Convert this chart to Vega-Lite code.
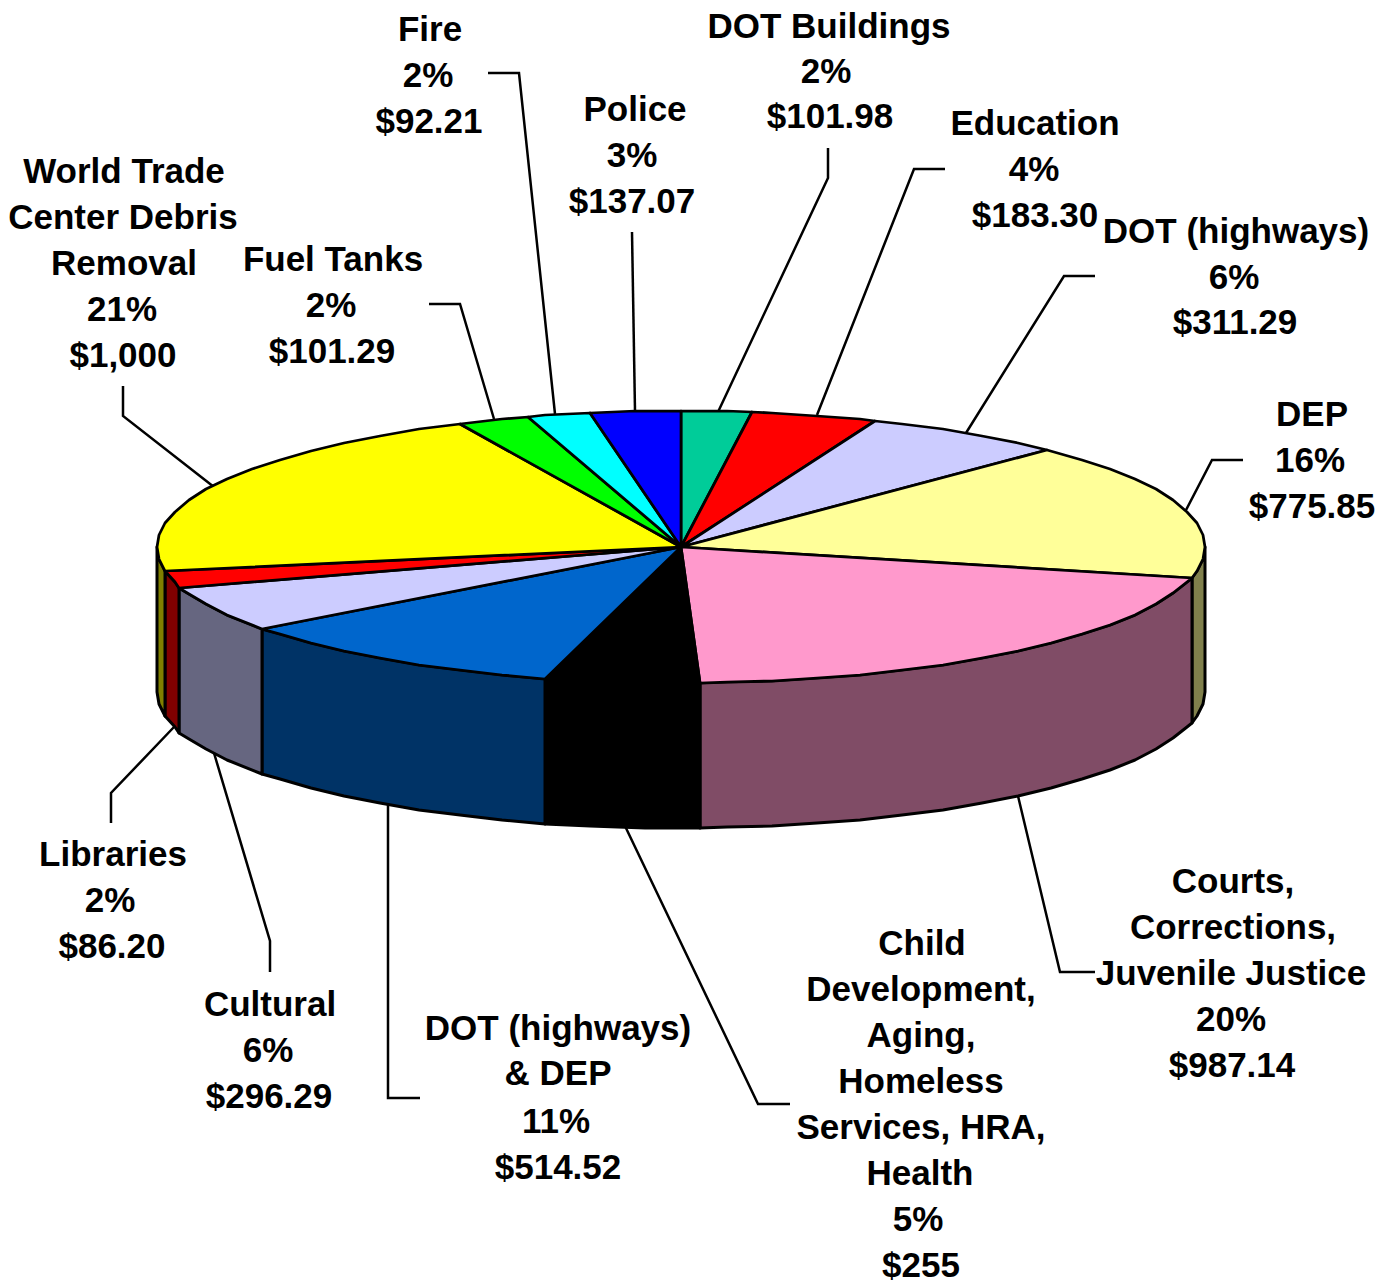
{"$schema":"https://vega.github.io/schema/vega-lite/v6.json","width":1394,"height":1281,"padding":0,"autosize":"none","background":"white","config":{"view":{"stroke":null}},
"datasets":{
"walls":[
{"slice":"DEP","i":0,"x":1205,"y":547},{"slice":"DEP","i":1,"x":1203,"y":559},{"slice":"DEP","i":2,"x":1197,"y":571},{"slice":"DEP","i":3,"x":1192,"y":578},{"slice":"DEP","i":4,"x":1192,"y":723},{"slice":"DEP","i":5,"x":1197,"y":716},{"slice":"DEP","i":6,"x":1203,"y":704},{"slice":"DEP","i":7,"x":1205,"y":692},
{"slice":"Courts","i":0,"x":1192,"y":578},{"slice":"Courts","i":1,"x":1187,"y":582},{"slice":"Courts","i":2,"x":1173,"y":593},{"slice":"Courts","i":3,"x":1156,"y":604},{"slice":"Courts","i":4,"x":1135,"y":615},{"slice":"Courts","i":5,"x":1110,"y":625},{"slice":"Courts","i":6,"x":1082,"y":634},{"slice":"Courts","i":7,"x":1051,"y":643},{"slice":"Courts","i":8,"x":1018,"y":651},{"slice":"Courts","i":9,"x":982,"y":658},{"slice":"Courts","i":10,"x":943,"y":665},{"slice":"Courts","i":11,"x":902,"y":670},{"slice":"Courts","i":12,"x":860,"y":675},{"slice":"Courts","i":13,"x":817,"y":678},{"slice":"Courts","i":14,"x":772,"y":681},{"slice":"Courts","i":15,"x":727,"y":682},{"slice":"Courts","i":16,"x":700,"y":683},
{"slice":"Courts","i":17,"x":700,"y":828},{"slice":"Courts","i":18,"x":727,"y":827},{"slice":"Courts","i":19,"x":772,"y":826},{"slice":"Courts","i":20,"x":817,"y":823},{"slice":"Courts","i":21,"x":860,"y":820},{"slice":"Courts","i":22,"x":902,"y":815},{"slice":"Courts","i":23,"x":943,"y":810},{"slice":"Courts","i":24,"x":982,"y":803},{"slice":"Courts","i":25,"x":1018,"y":796},{"slice":"Courts","i":26,"x":1051,"y":788},{"slice":"Courts","i":27,"x":1082,"y":779},{"slice":"Courts","i":28,"x":1110,"y":770},{"slice":"Courts","i":29,"x":1135,"y":760},{"slice":"Courts","i":30,"x":1156,"y":749},{"slice":"Courts","i":31,"x":1173,"y":738},{"slice":"Courts","i":32,"x":1187,"y":727},{"slice":"Courts","i":33,"x":1192,"y":723},
{"slice":"Child","i":0,"x":700,"y":683},{"slice":"Child","i":1,"x":645,"y":683},{"slice":"Child","i":2,"x":590,"y":681},{"slice":"Child","i":3,"x":545,"y":679},{"slice":"Child","i":4,"x":545,"y":824},{"slice":"Child","i":5,"x":590,"y":826},{"slice":"Child","i":6,"x":645,"y":828},{"slice":"Child","i":7,"x":700,"y":828},
{"slice":"DOTDEP","i":0,"x":545,"y":679},{"slice":"DOTDEP","i":1,"x":502,"y":675},{"slice":"DOTDEP","i":2,"x":460,"y":670},{"slice":"DOTDEP","i":3,"x":419,"y":665},{"slice":"DOTDEP","i":4,"x":380,"y":658},{"slice":"DOTDEP","i":5,"x":344,"y":651},{"slice":"DOTDEP","i":6,"x":311,"y":643},{"slice":"DOTDEP","i":7,"x":280,"y":634},{"slice":"DOTDEP","i":8,"x":262,"y":629},{"slice":"DOTDEP","i":9,"x":262,"y":774},{"slice":"DOTDEP","i":10,"x":280,"y":779},{"slice":"DOTDEP","i":11,"x":311,"y":788},{"slice":"DOTDEP","i":12,"x":344,"y":796},{"slice":"DOTDEP","i":13,"x":380,"y":803},{"slice":"DOTDEP","i":14,"x":419,"y":810},{"slice":"DOTDEP","i":15,"x":460,"y":815},{"slice":"DOTDEP","i":16,"x":502,"y":820},{"slice":"DOTDEP","i":17,"x":545,"y":824},
{"slice":"Cultural","i":0,"x":262,"y":629},{"slice":"Cultural","i":1,"x":227,"y":615},{"slice":"Cultural","i":2,"x":206,"y":604},{"slice":"Cultural","i":3,"x":189,"y":594},{"slice":"Cultural","i":4,"x":179,"y":588},{"slice":"Cultural","i":5,"x":179,"y":733},{"slice":"Cultural","i":6,"x":189,"y":739},{"slice":"Cultural","i":7,"x":206,"y":749},{"slice":"Cultural","i":8,"x":227,"y":760},{"slice":"Cultural","i":9,"x":262,"y":774},
{"slice":"Libraries","i":0,"x":179,"y":588},{"slice":"Libraries","i":1,"x":175,"y":582},{"slice":"Libraries","i":2,"x":165,"y":571},{"slice":"Libraries","i":3,"x":165,"y":716},{"slice":"Libraries","i":4,"x":175,"y":727},{"slice":"Libraries","i":5,"x":179,"y":733},
{"slice":"WTC","i":0,"x":165,"y":571},{"slice":"WTC","i":1,"x":159,"y":559},{"slice":"WTC","i":2,"x":157,"y":547},{"slice":"WTC","i":3,"x":157,"y":692},{"slice":"WTC","i":4,"x":159,"y":704},{"slice":"WTC","i":5,"x":165,"y":716}
],
"tops":[
{"slice":"DOTB","i":0,"x":681,"y":547},{"slice":"DOTB","i":1,"x":681,"y":411},{"slice":"DOTB","i":2,"x":727,"y":411},{"slice":"DOTB","i":3,"x":752,"y":412},
{"slice":"Education","i":0,"x":681,"y":547},{"slice":"Education","i":1,"x":752,"y":412},{"slice":"Education","i":2,"x":772,"y":413},{"slice":"Education","i":3,"x":817,"y":416},{"slice":"Education","i":4,"x":860,"y":419},{"slice":"Education","i":5,"x":875,"y":421},
{"slice":"DOTH","i":0,"x":681,"y":547},{"slice":"DOTH","i":1,"x":875,"y":421},{"slice":"DOTH","i":2,"x":902,"y":424},{"slice":"DOTH","i":3,"x":943,"y":429},{"slice":"DOTH","i":4,"x":982,"y":436},{"slice":"DOTH","i":5,"x":1018,"y":443},{"slice":"DOTH","i":6,"x":1047,"y":450},
{"slice":"DEP","i":0,"x":681,"y":547},{"slice":"DEP","i":1,"x":1047,"y":450},{"slice":"DEP","i":2,"x":1082,"y":460},{"slice":"DEP","i":3,"x":1110,"y":469},{"slice":"DEP","i":4,"x":1135,"y":479},{"slice":"DEP","i":5,"x":1156,"y":489},{"slice":"DEP","i":6,"x":1173,"y":500},{"slice":"DEP","i":7,"x":1187,"y":512},{"slice":"DEP","i":8,"x":1197,"y":523},{"slice":"DEP","i":9,"x":1203,"y":535},{"slice":"DEP","i":10,"x":1205,"y":547},{"slice":"DEP","i":11,"x":1203,"y":559},{"slice":"DEP","i":12,"x":1197,"y":571},{"slice":"DEP","i":13,"x":1192,"y":578},
{"slice":"Courts","i":0,"x":681,"y":547},{"slice":"Courts","i":1,"x":1192,"y":578},{"slice":"Courts","i":2,"x":1187,"y":582},{"slice":"Courts","i":3,"x":1173,"y":593},{"slice":"Courts","i":4,"x":1156,"y":604},{"slice":"Courts","i":5,"x":1135,"y":615},{"slice":"Courts","i":6,"x":1110,"y":625},{"slice":"Courts","i":7,"x":1082,"y":634},{"slice":"Courts","i":8,"x":1051,"y":643},{"slice":"Courts","i":9,"x":1018,"y":651},{"slice":"Courts","i":10,"x":982,"y":658},{"slice":"Courts","i":11,"x":943,"y":665},{"slice":"Courts","i":12,"x":902,"y":670},{"slice":"Courts","i":13,"x":860,"y":675},{"slice":"Courts","i":14,"x":817,"y":678},{"slice":"Courts","i":15,"x":772,"y":681},{"slice":"Courts","i":16,"x":727,"y":682},{"slice":"Courts","i":17,"x":700,"y":683},
{"slice":"Child","i":0,"x":681,"y":547},{"slice":"Child","i":1,"x":700,"y":683},{"slice":"Child","i":2,"x":645,"y":683},{"slice":"Child","i":3,"x":590,"y":681},{"slice":"Child","i":4,"x":545,"y":679},
{"slice":"DOTDEP","i":0,"x":681,"y":547},{"slice":"DOTDEP","i":1,"x":545,"y":679},{"slice":"DOTDEP","i":2,"x":502,"y":675},{"slice":"DOTDEP","i":3,"x":460,"y":670},{"slice":"DOTDEP","i":4,"x":419,"y":665},{"slice":"DOTDEP","i":5,"x":380,"y":658},{"slice":"DOTDEP","i":6,"x":344,"y":651},{"slice":"DOTDEP","i":7,"x":311,"y":643},{"slice":"DOTDEP","i":8,"x":280,"y":634},{"slice":"DOTDEP","i":9,"x":262,"y":629},
{"slice":"Cultural","i":0,"x":681,"y":547},{"slice":"Cultural","i":1,"x":262,"y":629},{"slice":"Cultural","i":2,"x":227,"y":615},{"slice":"Cultural","i":3,"x":206,"y":604},{"slice":"Cultural","i":4,"x":189,"y":594},{"slice":"Cultural","i":5,"x":179,"y":588},
{"slice":"Libraries","i":0,"x":681,"y":547},{"slice":"Libraries","i":1,"x":179,"y":588},{"slice":"Libraries","i":2,"x":175,"y":582},{"slice":"Libraries","i":3,"x":165,"y":571},
{"slice":"WTC","i":0,"x":681,"y":547},{"slice":"WTC","i":1,"x":165,"y":571},{"slice":"WTC","i":2,"x":159,"y":559},{"slice":"WTC","i":3,"x":157,"y":547},{"slice":"WTC","i":4,"x":159,"y":535},{"slice":"WTC","i":5,"x":165,"y":523},{"slice":"WTC","i":6,"x":175,"y":512},{"slice":"WTC","i":7,"x":189,"y":500},{"slice":"WTC","i":8,"x":206,"y":489},{"slice":"WTC","i":9,"x":227,"y":479},{"slice":"WTC","i":10,"x":252,"y":469},{"slice":"WTC","i":11,"x":280,"y":460},{"slice":"WTC","i":12,"x":311,"y":451},{"slice":"WTC","i":13,"x":344,"y":443},{"slice":"WTC","i":14,"x":380,"y":436},{"slice":"WTC","i":15,"x":419,"y":429},{"slice":"WTC","i":16,"x":460,"y":424},
{"slice":"Fuel","i":0,"x":681,"y":547},{"slice":"Fuel","i":1,"x":460,"y":424},{"slice":"Fuel","i":2,"x":502,"y":419},{"slice":"Fuel","i":3,"x":528,"y":417},
{"slice":"Fire","i":0,"x":681,"y":547},{"slice":"Fire","i":1,"x":528,"y":417},{"slice":"Fire","i":2,"x":545,"y":415},{"slice":"Fire","i":3,"x":590,"y":413},
{"slice":"Police","i":0,"x":681,"y":547},{"slice":"Police","i":1,"x":590,"y":413},{"slice":"Police","i":2,"x":635,"y":411},{"slice":"Police","i":3,"x":681,"y":411}
],
"leaders":[
{"slice":"Fire","i":0,"x":488,"y":73},{"slice":"Fire","i":1,"x":519,"y":73},{"slice":"Fire","i":2,"x":555,"y":414},
{"slice":"DOTB","i":0,"x":828,"y":148},{"slice":"DOTB","i":1,"x":828,"y":178},{"slice":"DOTB","i":2,"x":718,"y":412},
{"slice":"Police","i":0,"x":632,"y":232},{"slice":"Police","i":1,"x":635,"y":411},
{"slice":"Education","i":0,"x":945,"y":169},{"slice":"Education","i":1,"x":914,"y":169},{"slice":"Education","i":2,"x":817,"y":415},
{"slice":"DOTH","i":0,"x":1095,"y":276},{"slice":"DOTH","i":1,"x":1064,"y":276},{"slice":"DOTH","i":2,"x":966,"y":433},
{"slice":"DEP","i":0,"x":1243,"y":460},{"slice":"DEP","i":1,"x":1212,"y":460},{"slice":"DEP","i":2,"x":1185,"y":512},
{"slice":"WTC","i":0,"x":123,"y":386},{"slice":"WTC","i":1,"x":123,"y":416},{"slice":"WTC","i":2,"x":214,"y":487},
{"slice":"Fuel","i":0,"x":429,"y":304},{"slice":"Fuel","i":1,"x":460,"y":304},{"slice":"Fuel","i":2,"x":494,"y":419},
{"slice":"Courts","i":0,"x":1095,"y":972},{"slice":"Courts","i":1,"x":1060,"y":972},{"slice":"Courts","i":2,"x":1018,"y":796},
{"slice":"Child","i":0,"x":790,"y":1104},{"slice":"Child","i":1,"x":758,"y":1104},{"slice":"Child","i":2,"x":625,"y":826},
{"slice":"DOTDEP","i":0,"x":420,"y":1098},{"slice":"DOTDEP","i":1,"x":388,"y":1098},{"slice":"DOTDEP","i":2,"x":388,"y":802},
{"slice":"Cultural","i":0,"x":270,"y":972},{"slice":"Cultural","i":1,"x":270,"y":941},{"slice":"Cultural","i":2,"x":214,"y":753},
{"slice":"Libraries","i":0,"x":111,"y":823},{"slice":"Libraries","i":1,"x":111,"y":793},{"slice":"Libraries","i":2,"x":174,"y":727}
],
"labels":[
{"t":"Fire","x":430,"y":29},{"t":"2%","x":428,"y":75},{"t":"$92.21","x":429,"y":121},
{"t":"DOT Buildings","x":829,"y":26},{"t":"2%","x":826,"y":71},{"t":"$101.98","x":830,"y":116},
{"t":"Police","x":635,"y":109},{"t":"3%","x":632,"y":155},{"t":"$137.07","x":632,"y":201},
{"t":"Education","x":1035,"y":123},{"t":"4%","x":1034,"y":169},{"t":"$183.30","x":1035,"y":215},
{"t":"DOT (highways)","x":1236,"y":231},{"t":"6%","x":1234,"y":277},{"t":"$311.29","x":1235,"y":322},
{"t":"DEP","x":1312,"y":414},{"t":"16%","x":1310,"y":460},{"t":"$775.85","x":1312,"y":506},
{"t":"World Trade","x":124,"y":171},{"t":"Center Debris","x":123,"y":217},{"t":"Removal","x":124,"y":263},{"t":"21%","x":122,"y":309},{"t":"$1,000","x":123,"y":355},
{"t":"Fuel Tanks","x":333,"y":259},{"t":"2%","x":331,"y":305},{"t":"$101.29","x":332,"y":351},
{"t":"Courts,","x":1233,"y":881},{"t":"Corrections,","x":1233,"y":927},{"t":"Juvenile Justice","x":1231,"y":973},{"t":"20%","x":1231,"y":1019},{"t":"$987.14","x":1232,"y":1065},
{"t":"Child","x":922,"y":943},{"t":"Development,","x":921,"y":989},{"t":"Aging,","x":921,"y":1035},{"t":"Homeless","x":921,"y":1081},{"t":"Services, HRA,","x":921,"y":1127},{"t":"Health","x":920,"y":1173},{"t":"5%","x":918,"y":1219},{"t":"$255","x":921,"y":1265},
{"t":"DOT (highways)","x":558,"y":1028},{"t":"& DEP","x":558,"y":1073},{"t":"11%","x":556,"y":1121},{"t":"$514.52","x":558,"y":1167},
{"t":"Cultural","x":270,"y":1004},{"t":"6%","x":268,"y":1050},{"t":"$296.29","x":269,"y":1096},
{"t":"Libraries","x":113,"y":854},{"t":"2%","x":110,"y":900},{"t":"$86.20","x":112,"y":946}
]},
"resolve":{"scale":{"fill":"independent"}},
"encoding":{
"x":{"field":"x","type":"quantitative","scale":{"domain":[0,1394],"nice":false,"zero":false},"axis":null},
"y":{"field":"y","type":"quantitative","scale":{"domain":[0,1281],"nice":false,"zero":false,"reverse":true},"axis":null}
},
"layer":[
{"data":{"name":"leaders"},"mark":{"type":"line","stroke":"black","strokeWidth":2.5,"strokeJoin":"miter"},"encoding":{"detail":{"field":"slice"},"order":{"field":"i","type":"quantitative"}}},
{"data":{"name":"walls"},"mark":{"type":"line","interpolate":"linear-closed","stroke":"black","strokeWidth":3,"strokeJoin":"round"},"encoding":{"fill":{"field":"slice","type":"nominal","legend":null,"scale":{"domain":["DEP","Courts","Child","DOTDEP","Cultural","Libraries","WTC"],"range":["#80804C","#804C66","#000000","#003366","#666680","#800000","#808000"]}},"detail":{"field":"slice"},"order":{"field":"i","type":"quantitative"}}},
{"data":{"name":"tops"},"mark":{"type":"line","interpolate":"linear-closed","stroke":"black","strokeWidth":2.75,"strokeJoin":"round"},"encoding":{"fill":{"field":"slice","type":"nominal","legend":null,"scale":{"domain":["DOTB","Education","DOTH","DEP","Courts","Child","DOTDEP","Cultural","Libraries","WTC","Fuel","Fire","Police"],"range":["#00CC99","#FF0000","#CCCCFF","#FFFF99","#FF99CC","#000000","#0066CC","#CCCCFF","#FF0000","#FFFF00","#00FF00","#00FFFF","#0000FF"]}},"detail":{"field":"slice"},"order":{"field":"i","type":"quantitative"}}},
{"data":{"name":"labels"},"mark":{"type":"text","font":"Liberation Sans","fontWeight":"bold","fontSize":35,"align":"center","baseline":"middle","dy":1,"color":"black"},"encoding":{"text":{"field":"t"}}}
]}
